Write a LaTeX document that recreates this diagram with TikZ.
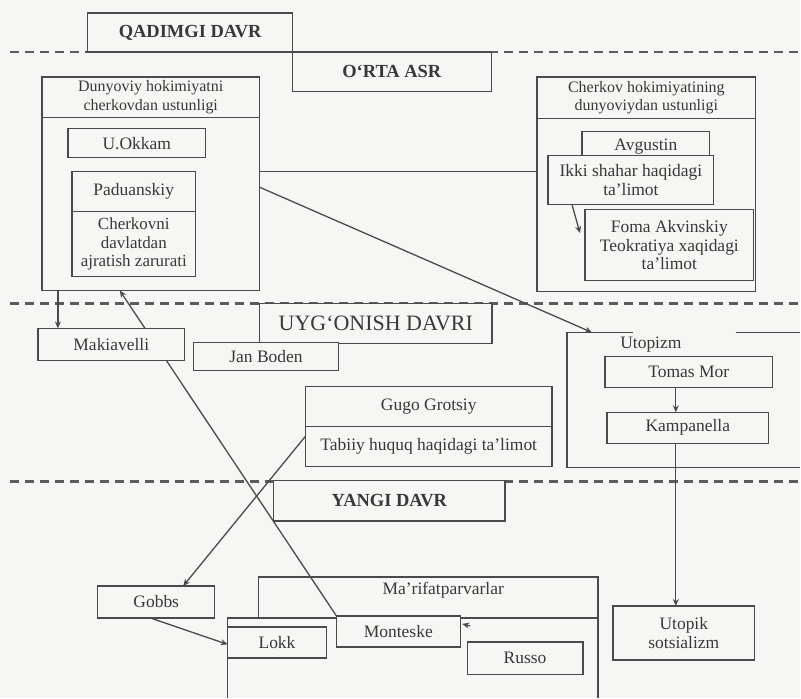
\documentclass[tikz,border=0pt]{standalone}
\usepackage{fontspec}
\setmainfont{Liberation Serif}
\usetikzlibrary{arrows.meta}
\definecolor{ink}{HTML}{4A4A4A}
\definecolor{txt}{HTML}{383838}
\definecolor{paper}{HTML}{F6F6F4}
\pgfdeclarelayer{paperlayer}
\pgfdeclarelayer{linklayer}
\pgfsetlayers{paperlayer,linklayer,main}
\begin{document}
\begin{tikzpicture}[x=1pt,y=-1pt,
  box/.style={draw=ink, line width=1.3pt, fill=paper, anchor=north west, inner sep=1pt, outer sep=0pt,
    align=center, text=txt, font=\fontsize{17.5}{18.5}\selectfont},
  hbox/.style={box, font=\fontsize{16}{18.5}\selectfont},
  tbox/.style={box, font=\fontsize{18.5}{20}\selectfont\bfseries},
  plain/.style={inner sep=0pt, text=txt, font=\fontsize{17.5}{18.5}\selectfont},
  dashline/.style={draw=ink!90, line width=2.8pt, dash pattern=on 9pt off 6pt},
  conn/.style={draw=ink, line width=1.3pt},
  arr/.style={conn, -{Stealth[length=7pt,width=6pt]}}]
% background / bounding box
\begin{pgfonlayer}{paperlayer}
\fill[paper] (0,0) rectangle (801,699);
\end{pgfonlayer}
% era separators
\draw[dashline] (10,52) -- (801,52);
\draw[dashline] (10,304) -- (801,304);
\draw[dashline] (10,482) -- (801,482);

% era titles
\node[tbox, minimum width=205pt, minimum height=39pt] (qad) at (88,13) {QADIMGI DAVR};
\node[tbox, minimum width=199pt, minimum height=40pt] (orta) at (293,52) {O‘RTA ASR};

% outer frames of the Middle Ages groups
\node[hbox, minimum width=218pt, minimum height=41pt] (lhead) at (42,77) {Dunyoviy hokimiyatni\\cherkovdan ustunligi};
\node[box, minimum width=218pt, minimum height=173pt] (lbody) at (42,118) {};
\node[hbox, minimum width=219pt, minimum height=42pt] (rhead) at (538,77) {Cherkov hokimiyatining\\dunyoviydan ustunligi};
\node[box, minimum width=219pt, minimum height=173pt] (rbody) at (538,119) {};

\node[box, minimum width=233pt, minimum height=40pt, font=\fontsize{22}{24}\selectfont] (uyg) at (260,304) {UYG‘ONISH DAVRI};
\node[box, minimum width=147pt, minimum height=32pt] (mak) at (38,329) {Makiavelli};
\node[box, minimum width=145pt, minimum height=28pt] (jan) at (194,343) {Jan Boden};
\node[box, minimum width=247pt, minimum height=40pt] (ghead) at (306,387) {Gugo Grotsiy};
\node[box, minimum width=247pt, minimum height=40pt] (gbody) at (306,427) {Tabiiy huquq haqidagi ta’limot};

\node[tbox, minimum width=232pt, minimum height=41pt] (yangi) at (274,481) {YANGI DAVR};
\node[box, minimum width=117pt, minimum height=32pt] (gobbs) at (98,587) {Gobbs};
\node[box, minimum width=142pt, minimum height=54pt] (utsoc) at (614,607) {Utopik\\sotsializm};

% Utopizm frame (open on the right)
\coordinate (utop) at (593,333);
\draw[conn] (634,333) -- (568,333) -- (568,468) -- (801,468);
\draw[conn] (737,333) -- (801,333);
\node[plain] (utoptitle) at (652,345) {Utopizm};
\node[box, minimum width=168pt, minimum height=31pt] (tomas) at (606,357) {Tomas Mor};
\node[box, minimum width=162pt, minimum height=31pt] (kamp) at (608,413) {Kampanella};

% connectors
\draw[arr] ([xshift=16pt]lbody.south west) -- ([xshift=20pt]mak.north west);
\draw[conn] ([yshift=32.5pt]lbody.east) -- ([yshift=32.5pt]lbody.east -| rbody.west);
\draw[arr] ([yshift=17pt]lbody.east) -- (utop);
\draw[arr] ([xshift=-13pt]tomas.south) -- ([xshift=-12pt]kamp.north);
\draw[arr] ([xshift=-12pt]kamp.south) -- ([xshift=-8pt]utsoc.north);
\draw[arr] ([yshift=10pt]gbody.west) -- ([xshift=27pt]gobbs.north);

% Ma'rifatparvarlar group
\node[box, fill=none, minimum width=340pt, minimum height=41pt] (mhead) at (259,578) {};
\node[plain] (mtitle) at (444,591) {Ma’rifatparvarlar};
\draw[conn] (228,699) -- (228,619) -- (599,619) -- (599,699);
\node[box, minimum width=99pt, minimum height=31pt] (lokk) at (228,628) {Lokk};
\node[box, minimum width=124pt, minimum height=31pt] (mon) at (337,617) {Monteske};
\node[box, minimum width=116pt, minimum height=33pt] (russo) at (468,643) {Russo};
\draw[arr] ([xshift=10pt,yshift=-10pt]mon.north east) -- ([xshift=2pt,yshift=-8pt]mon.north east);
\draw[arr] ([xshift=-6pt]gobbs.south) -- ([yshift=-2pt]lokk.west);

% long connector Monteske -> left group (passes under Makiavelli)
\begin{pgfonlayer}{linklayer}
\draw[arr] (mon.north west) -- ([xshift=78pt]lbody.south west);
\end{pgfonlayer}

% inner boxes of the left group
\node[box, minimum width=138pt, minimum height=29pt] (okkam) at (68,129) {U.Okkam};
\node[box, minimum width=124pt, minimum height=40pt] (padua) at (72,172) {Paduanskiy};
\node[box, minimum width=124pt, minimum height=65pt, font=\fontsize{17}{18.5}\selectfont] (cherk) at (72,212) {Cherkovni\\davlatdan\\ajratish zarurati};

% inner boxes of the right group
\node[box, minimum width=128pt, minimum height=26pt, inner sep=0pt, text depth=0pt] (avg) at (583,132) {Avgustin};
\node[box, minimum width=166pt, minimum height=49pt] (ikki) at (549,156) {Ikki shahar haqidagi\\ta’limot};
\node[box, minimum width=169pt, minimum height=71pt] (foma) at (586,210) {Foma Akvinskiy\\Teokratiya xaqidagi\\ta’limot};
\draw[arr] ([xshift=24pt]ikki.south west) -- ([xshift=-5pt,yshift=12pt]foma.west);
\end{tikzpicture}
\end{document}
